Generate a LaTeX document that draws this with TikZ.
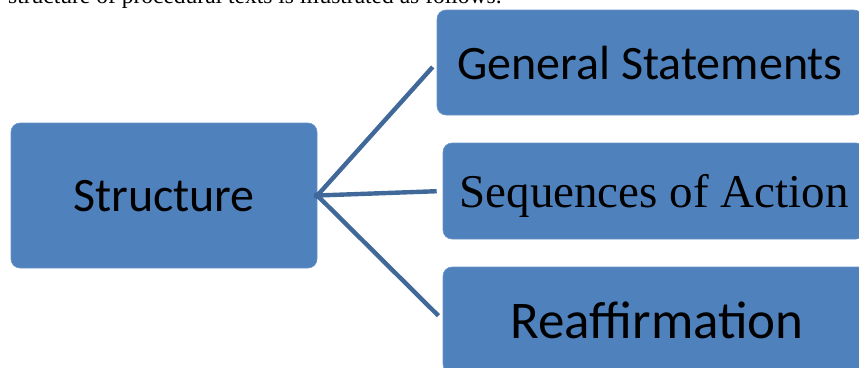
\documentclass[tikz,border=0pt]{standalone}
\usepackage{fontspec}
\setmainfont{Carlito}
\newfontfamily\timesfont{Liberation Serif}
\usepackage{tikz}
\usetikzlibrary{calc,positioning}

\definecolor{boxblue}{RGB}{79,129,189}
\definecolor{linkblue}{RGB}{64,104,153}

\begin{document}
\begin{tikzpicture}[
    x=1pt, y=-1pt,
    every node/.style={font=\fontsize{48}{56}\selectfont},
    part/.style={fill=boxblue, draw=boxblue!85!white, line width=0.6pt,
      rounded corners=9pt, inner sep=0pt, text depth=0pt, anchor=center},
    link/.style={draw=linkblue, line width=4.4pt, shorten >=6pt, shorten <=-3pt}
]
% page frame, pixel units with y pointing down
\useasboundingbox (0,0) rectangle (859,367);
\clip (0,0) rectangle (859,367);

% cut-off line of running text above the figure
\node[anchor=base west, inner sep=0pt, font=\timesfont\fontsize{23.5}{26}\selectfont]
  (intro) at (8,3.5) {structure of procedural texts is illustrated as follows.};

% root box and its three parts
\node[part, minimum width=306pt, minimum height=145pt] (st) at (164,195.5) {Structure};
\node[part, minimum width=426pt, minimum height=105pt] (gs) at (650,62.5) {General Statements};
\node[part, minimum width=422pt, minimum height=96pt, font=\timesfont\fontsize{47}{56}\selectfont]
  (soa) at (654,191) {Sequences of Action};
\node[part, minimum width=428pt, minimum height=106pt, font=\fontsize{53}{60}\selectfont]
  (ra) at (657,320) {Reaffirmation};

% fan of connectors
\draw[link] (st.east) -- (gs.west);
\draw[link] (st.east) -- (soa.west);
\draw[link] (st.east) -- (ra.west);
\end{tikzpicture}
\end{document}
